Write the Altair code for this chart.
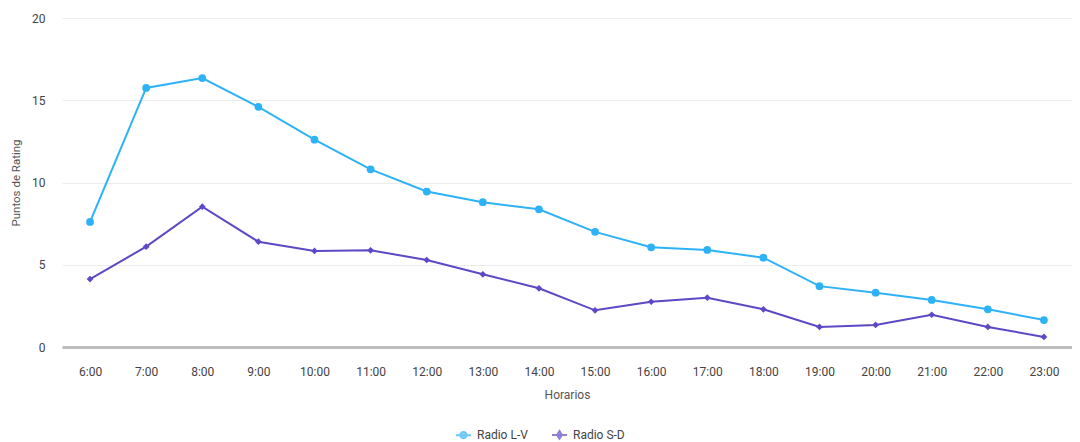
import altair as alt
import pandas as pd

hours = ["6:00", "7:00", "8:00", "9:00", "10:00", "11:00", "12:00", "13:00", "14:00",
         "15:00", "16:00", "17:00", "18:00", "19:00", "20:00", "21:00", "22:00", "23:00"]
radio_lv = [7.6, 15.75, 16.35, 14.6, 12.6, 10.8, 9.45, 8.8, 8.37, 7.0, 6.06, 5.9, 5.43,
            3.7, 3.3, 2.86, 2.29, 1.64]
radio_sd = [4.13, 6.1, 8.53, 6.4, 5.84, 5.88, 5.29, 4.42, 3.57, 2.23, 2.75, 3.0, 2.29,
            1.22, 1.34, 1.96, 1.22, 0.61]
series_names = ["Radio L-V", "Radio S-D"]
series_colors = ["#2EB2F7", "#5B49C6"]

rows = []
for h, v in zip(hours, radio_lv):
    rows.append({"hora": h, "valor": v, "serie": series_names[0]})
for h, v in zip(hours, radio_sd):
    rows.append({"hora": h, "valor": v, "serie": series_names[1]})
df = pd.DataFrame(rows)

FONT = "Roboto"

x = alt.X("hora:N", sort=hours, title="Horarios",
          scale=alt.Scale(type="point", padding=0.5),
          axis=alt.Axis(labelAngle=0, ticks=False, grid=False, labelPadding=19,
                        domainColor="#bdbdbd", domainWidth=3, titlePadding=12,
                        labelFontSize=12, titleFontSize=12, labelColor="#444",
                        titleColor="#555", titleFontWeight="normal", labelFont=FONT,
                        titleFont=FONT))
y = alt.Y("valor:Q", title="Puntos de Rating",
          scale=alt.Scale(domain=[0, 20]),
          axis=alt.Axis(values=[0, 5, 10, 15, 20], domain=False, ticks=False,
                        labelPadding=17, gridColor="#ececec", gridWidth=1,
                        titlePadding=10, labelFontSize=12, titleFontSize=11.5,
                        labelColor="#444", titleColor="#555", titleFontWeight="normal",
                        labelFont=FONT, titleFont=FONT))

base = alt.Chart(df)

layers = []
shapes = ["circle", "diamond"]
sizes = [60, 45]
for name, col, shp, sz in zip(series_names, series_colors, shapes, sizes):
    sub = base.transform_filter(alt.datum.serie == name)
    layers.append(sub.mark_line(strokeWidth=2, color=col).encode(x=x, y=y))
    layers.append(sub.mark_point(filled=True, shape=shp, size=sz, color=col, opacity=1)
                  .encode(x=x, y=y))

legend_paths = [
    "M-1,0L1,0M0.42,0A0.42,0.42 0 1,1 -0.42,0A0.42,0.42 0 1,1 0.42,0Z",
    "M-1,0L1,0M0,-0.5L0.32,0L0,0.5L-0.32,0Z",
]
legend_layer = base.transform_filter("false").mark_point(filled=True).encode(
    x=x, y=y,
    fill=alt.Fill("serie:N", scale=alt.Scale(domain=series_names, range=series_colors),
                  title=None,
                  legend=alt.Legend(orient="none", legendX=393, legendY=408,
                                    direction="horizontal", symbolSize=225,
                                    symbolStrokeWidth=2, labelFontSize=12,
                                    labelColor="#444", labelFont=FONT, columnPadding=20,
                                    symbolOffset=0, labelOffset=5)),
    stroke=alt.Stroke("serie:N", scale=alt.Scale(domain=series_names, range=series_colors),
                      title=None),
    shape=alt.Shape("serie:N", scale=alt.Scale(domain=series_names, range=legend_paths),
                    title=None),
)
layers.append(legend_layer)

chart = alt.layer(*layers).properties(
    width=1010, height=329,
    autosize=alt.AutoSizeParams(type="none"),
    padding={"left": 54, "top": 10, "right": 0, "bottom": 95},
).configure(font=FONT, background="white").configure_view(stroke=None)

chart.save("out.html", embed_options={"renderer": "svg", "actions": False})
